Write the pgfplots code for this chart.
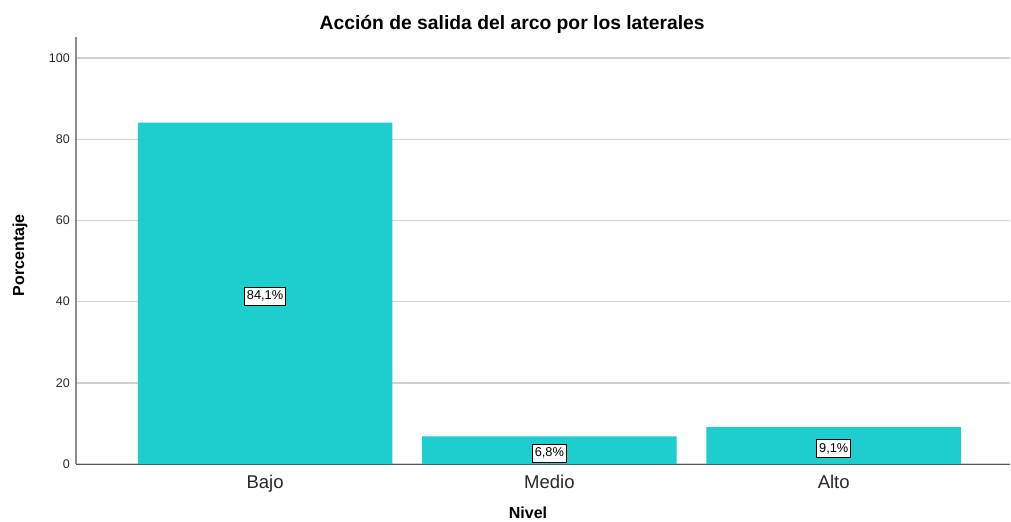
\documentclass[border=0pt]{standalone}
\usepackage{pgfplots}
\pgfplotsset{compat=1.18}
\usepackage{fontspec}
\setmainfont{Liberation Sans}
\definecolor{barc}{RGB}{30,205,205}
\definecolor{gridc}{RGB}{208,208,208}
\definecolor{yaxc}{RGB}{140,140,140}
\definecolor{xaxc}{RGB}{85,85,85}
\definecolor{tickc}{RGB}{40,40,40}
\begin{document}
\begin{tikzpicture}
\useasboundingbox (-76bp,-58bp) rectangle (935bp,464bp);
\begin{axis}[
  at={(0,0)}, anchor=south west,
  scale only axis,
  width=934bp, height=427bp,
  xmin=-0.665, xmax=2.62,
  ymin=0, ymax=105.2,
  xtick={0,1,2},
  xticklabels={Bajo,Medio,Alto},
  ytick={0,20,40,60,80,100},
  major tick length=0pt,
  axis x line*=bottom,
  axis y line*=left,
  x axis line style={draw=xaxc, line width=1pt, -},
  y axis line style={draw=yaxc, line width=2pt, -},
  ymajorgrids,
  major grid style={draw=gridc, line width=1.5pt},
  /pgf/number format/assume math mode=true,
  yticklabel style={anchor=east, xshift=-6bp, inner sep=0pt, font=\fontsize{12.5bp}{15bp}\selectfont, text=tickc},
  xticklabel style={anchor=base, yshift=-24bp, inner sep=0pt, font=\fontsize{18.5bp}{22bp}\selectfont, text=tickc},
  clip=false,
]
\addplot[ybar, bar width=0.895, bar shift=0pt, fill=barc, draw=none]
  coordinates {(0,84.1) (1,6.8) (2,9.1)};
\addplot[only marks, mark=none, nodes near coords, point meta=explicit symbolic,
  nodes near coords style={anchor=center, yshift=-3bp, draw=black, line width=0.8pt, fill=white,
    inner xsep=2.5bp, inner ysep=0pt, minimum height=18bp,
    font=\fontsize{12.8bp}{15bp}\selectfont}]
  coordinates {(0,42.05) [84,1\%] (1,3.4) [6,8\%] (2,4.55) [9,1\%]};
\node[font=\bfseries\fontsize{19.3bp}{23bp}\selectfont] at (axis description cs:0.467,1.030) {Acción de salida del arco por los laterales};
\node[font=\bfseries\fontsize{16bp}{19bp}\selectfont] at (axis description cs:0.484,-0.115) {Nivel};
\node[font=\bfseries\fontsize{16bp}{19bp}\selectfont, rotate=90] at (axis description cs:-0.060,0.489) {Porcentaje};
\end{axis}
\end{tikzpicture}
\end{document}
